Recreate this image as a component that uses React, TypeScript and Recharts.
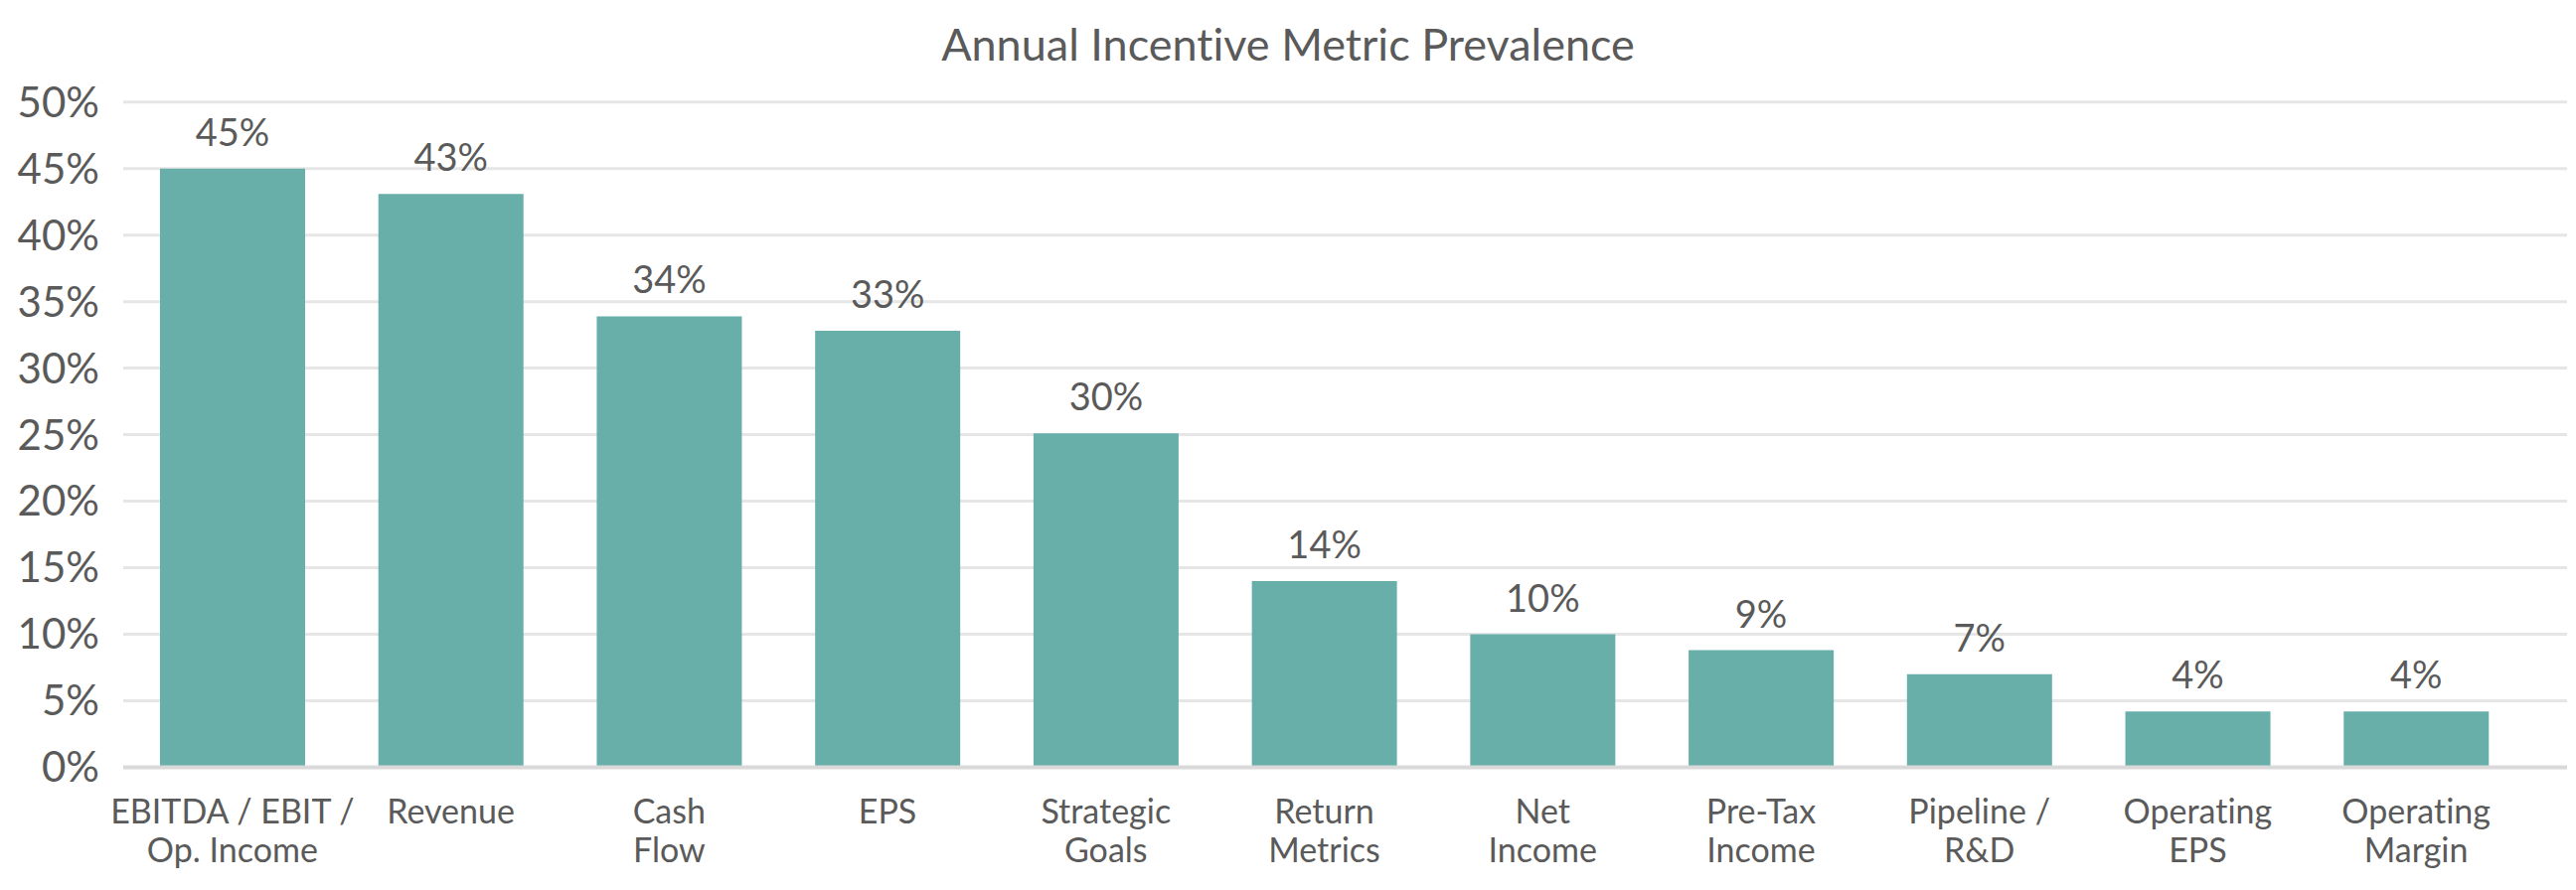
import { BarChart, Bar, XAxis, YAxis, CartesianGrid, LabelList } from 'recharts';

const categories = [
  'EBITDA / EBIT /\nOp. Income',
  'Revenue',
  'Cash\nFlow',
  'EPS',
  'Strategic\nGoals',
  'Return\nMetrics',
  'Net\nIncome',
  'Pre-Tax\nIncome',
  'Pipeline /\nR&D',
  'Operating\nEPS',
  'Operating\nMargin',
];

// bar heights as drawn (percent)
const prevalence = [45, 43.1, 33.9, 32.8, 25.1, 14, 10, 8.8, 7, 4.2, 4.2];

// data labels as printed above the bars
const valueLabels = ['45%', '43%', '34%', '33%', '30%', '14%', '10%', '9%', '7%', '4%', '4%'];

const yTicks = [0, 5, 10, 15, 20, 25, 30, 35, 40, 45, 50];

const TEXT = '#5a5a5a';
const FONT = "Lato, 'Open Sans', sans-serif";

const data = categories.map((name, i) => ({
  name,
  value: prevalence[i],
  label: valueLabels[i],
}));

const CategoryTick = ({ x, y, payload }: any) => {
  const lines = String(payload.value).split('\n');
  return (
    <text x={x} y={y} textAnchor="middle" fill={TEXT} fontSize={34} fontFamily={FONT}>
      {lines.map((line, i) => (
        <tspan key={i} x={x} dy={i === 0 ? 56 : 39}>
          {line}
        </tspan>
      ))}
    </text>
  );
};

export default function App() {
  return (
    <div
      style={{
        position: 'relative',
        width: 2592,
        height: 896,
        background: '#fff',
        fontVariantLigatures: 'none',
      }}
    >
      <style>{'body { margin: 0; } svg text { font-variant-ligatures: none; }'}</style>
      <div
        style={{
          position: 'absolute',
          top: 22,
          left: 0,
          width: 2592,
          textAlign: 'center',
          fontFamily: FONT,
          fontSize: 45,
          lineHeight: '45px',
          color: TEXT,
        }}
      >
        Annual Incentive Metric Prevalence
      </div>
      <BarChart
        width={2592}
        height={896}
        data={data}
        margin={{ top: 102.7, right: 9, left: 0, bottom: 23.5 }}
      >
        <CartesianGrid vertical={false} stroke="#e6e6e6" strokeWidth={3} />
        <XAxis
          dataKey="name"
          interval={0}
          height={100}
          padding={{ left: 0, right: 42 }}
          tickLine={false}
          tickSize={0}
          tickMargin={0}
          axisLine={{ stroke: '#d9d9d9', strokeWidth: 4 }}
          tick={<CategoryTick />}
        />
        <YAxis
          width={124}
          domain={[0, 50]}
          ticks={yTicks}
          interval={0}
          axisLine={false}
          tickLine={false}
          tickSize={0}
          tickMargin={24}
          tickFormatter={(v: number) => `${v}%`}
          tick={{ fill: TEXT, fontSize: 42, fontFamily: FONT }}
        />
        <Bar dataKey="value" fill="#68afaa" barSize={146} isAnimationActive={false}>
          <LabelList
            dataKey="label"
            position="top"
            offset={23}
            fill={TEXT}
            fontSize={38}
            fontFamily={FONT}
          />
        </Bar>
      </BarChart>
    </div>
  );
}
